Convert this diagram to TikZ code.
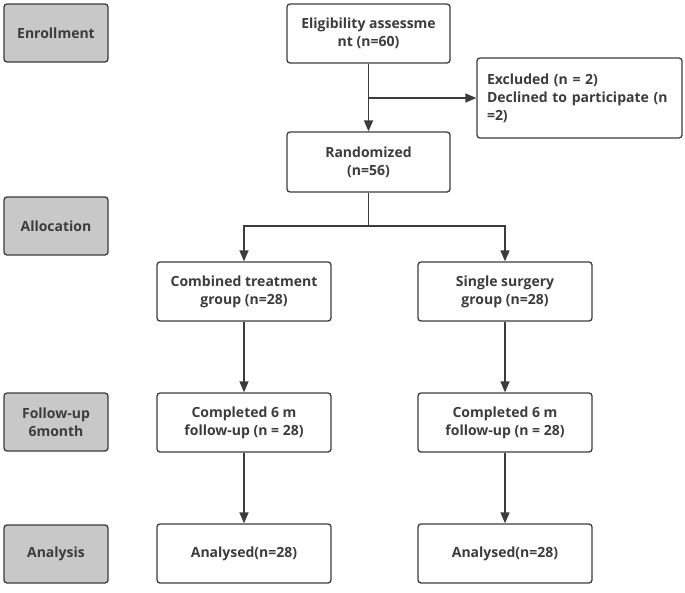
\documentclass[tikz,border=0pt]{standalone}
\usepackage{fontspec}
\setmainfont{Open Sans}
\usetikzlibrary{arrows.meta}
\definecolor{inkgray}{HTML}{3C3C3C}
\definecolor{stagegray}{HTML}{C8C8C8}
\tikzset{
  stage/.style={draw=inkgray, fill=stagegray, line width=1.3pt, rounded corners=3pt,
    minimum width=104pt, minimum height=58pt, align=center, text=inkgray},
  flowbox/.style={draw=inkgray, fill=white, line width=1.3pt, rounded corners=3pt,
    minimum width=174pt, minimum height=59pt, align=center, text=inkgray},
  flowline/.style={draw=inkgray, line width=1.5pt},
  flowarrow/.style={flowline, -{Triangle[length=11pt, width=9pt]}}
}
\begin{document}
\begin{tikzpicture}[x=1pt, y=-1pt, font=\fontsize{14}{18}\selectfont\bfseries]
  \useasboundingbox (0,0) rectangle (685,592);
  % stages on the left
  \node[stage] (enrol) at (56,33) {Enrollment};
  \node[stage] (alloc) at (56,226) {Allocation};
  \node[stage] (follow) at (56,422) {Follow-up\\6month};
  \node[stage] (analysis) at (56,554) {Analysis};
  % enrollment and randomization
  \node[flowbox, minimum width=163pt] (elig) at (368.5,33.5) {Eligibility assessme\\nt (n=60)};
  \node[flowbox, minimum width=163pt, minimum height=60pt] (rand) at (368.5,162) {Randomized\\(n=56)};
  \node[flowbox, minimum width=205pt, minimum height=80pt, align=left, text width=185pt]
    (excl) at (579.5,98) {Excluded (n = 2)\\Declined to participate (n\\=2)};
  % two arms
  \node[flowbox] (comb) at (244,291.5) {Combined treatment\\group (n=28)};
  \node[flowbox] (single) at (505,291.5) {Single surgery\\group (n=28)};
  \node[flowbox] (combfu) at (244,422.5) {Completed 6 m\\follow-up (n = 28)};
  \node[flowbox] (singlefu) at (505,422.5) {Completed 6 m\\follow-up (n = 28)};
  \node[flowbox] (combres) at (244,553.5) {Analysed(n=28)};
  \node[flowbox] (singleres) at (505,553.5) {Analysed(n=28)};
  % connectors
  \coordinate (branch) at (elig.south |- excl.west);
  \coordinate (split) at (rand.south |- alloc.east);
  \draw[flowarrow] (elig.south) -- (rand.north);
  \draw[flowarrow] (branch) -- (excl.west);
  \draw[flowline] (rand.south) -- (split);
  \draw[flowarrow] (split) -| (comb.north);
  \draw[flowarrow] (split) -| (single.north);
  \draw[flowarrow] (comb) -- (combfu);
  \draw[flowarrow] (single) -- (singlefu);
  \draw[flowarrow] (combfu) -- (combres);
  \draw[flowarrow] (singlefu) -- (singleres);
\end{tikzpicture}
\end{document}
